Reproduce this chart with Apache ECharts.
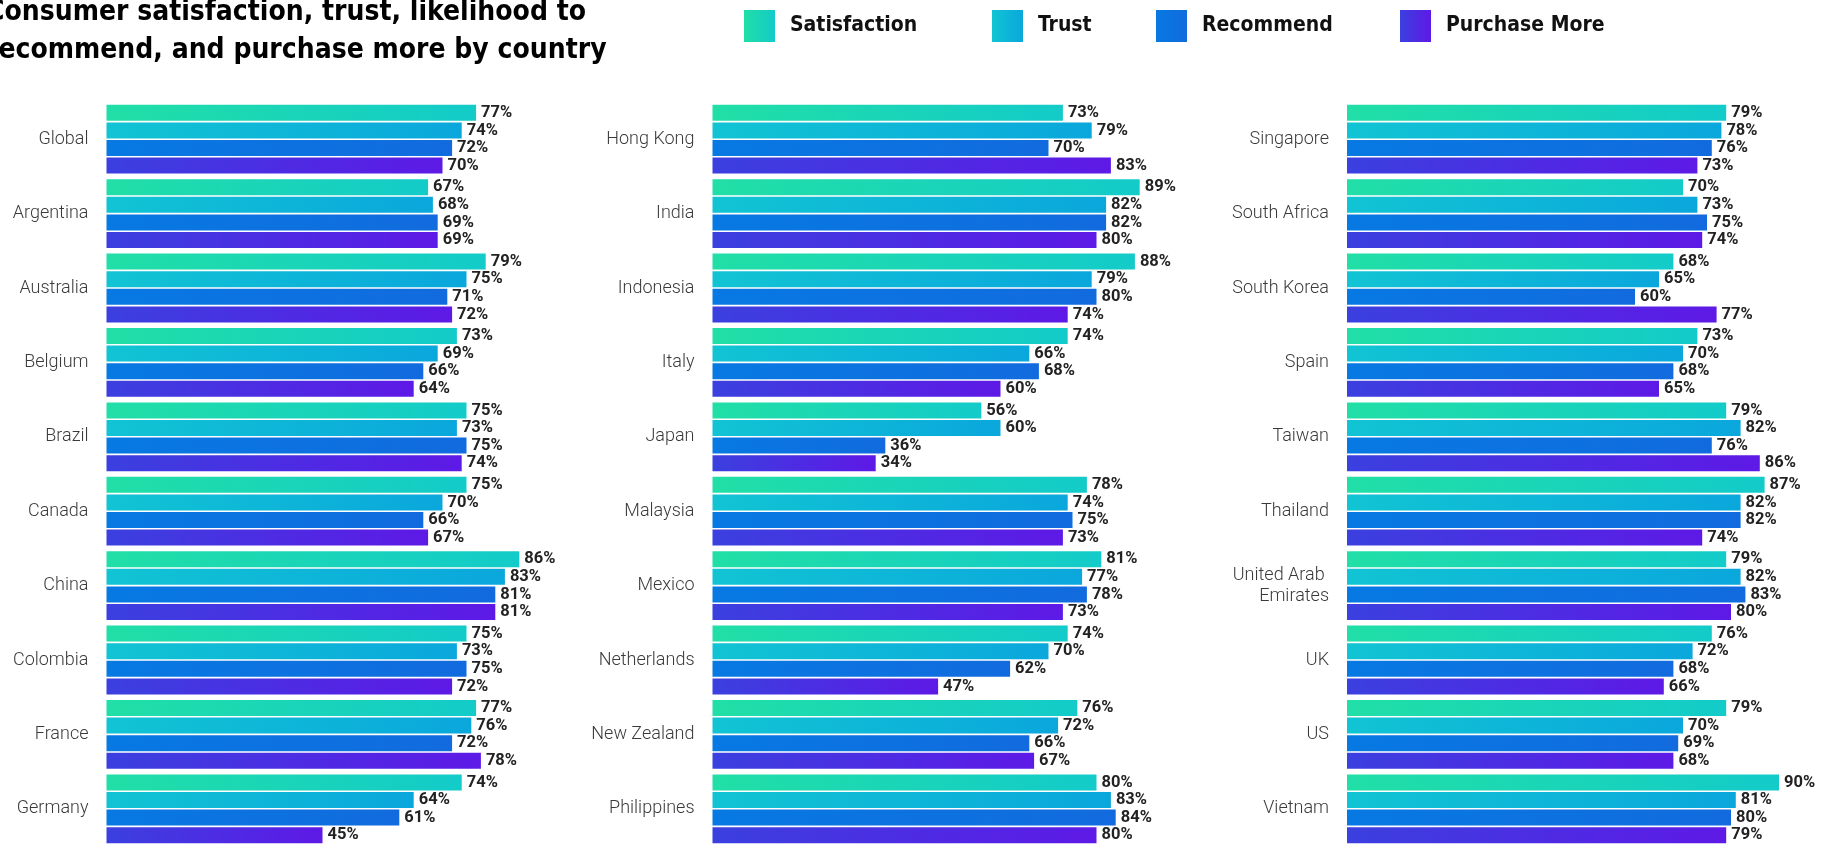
<!DOCTYPE html>
<html><head><meta charset="utf-8">
<script src="https://cdn.jsdelivr.net/npm/echarts@6/dist/echarts.min.js"></script>
<style>html,body{margin:0;padding:0;background:#fff;overflow:hidden}#c{width:1835px;height:846px}</style>
</head><body><div id="c"></div>
<script>
const countries = [
  'Global','Argentina','Australia','Belgium','Brazil','Canada','China','Colombia','France','Germany',
  'Hong Kong','India','Indonesia','Italy','Japan','Malaysia','Mexico','Netherlands','New Zealand','Philippines',
  'Singapore','South Africa','South Korea','Spain','Taiwan','Thailand','United Arab \nEmirates','UK','US','Vietnam'
];
const satisfaction = [77,67,79,73,75,75,86,75,77,74, 73,89,88,74,56,78,81,74,76,80, 79,70,68,73,79,87,79,76,79,90];
const trust        = [74,68,75,69,73,70,83,73,76,64, 79,82,79,66,60,74,77,70,72,83, 78,73,65,70,82,82,82,72,70,81];
const recommend    = [72,69,71,66,75,66,81,75,72,61, 70,82,80,68,36,75,78,62,66,84, 76,75,60,68,76,82,83,68,69,80];
const purchaseMore = [70,69,72,64,74,67,81,72,78,45, 83,80,74,60,34,73,73,47,67,80, 73,74,77,65,86,74,80,66,68,79];
const seriesNames = ['Satisfaction','Trust','Recommend','Purchase More'];
const seriesData = [satisfaction, trust, recommend, purchaseMore];
const gradients = [
  ['#21dfa6','#13cbc9'],
  ['#11c4d3','#0aa7dc'],
  ['#0779e2','#126bde'],
  ['#3b40df','#5e19e6']
];
const gridLefts = [106.5, 712.5, 1347];
const legendLefts = [739, 987, 1151, 1395];

const chart = echarts.init(document.getElementById('c'));
const grad = (c) => new echarts.graphic.LinearGradient(0, 0, 1, 0, [{offset: 0, color: c[0]}, {offset: 1, color: c[1]}]);

const grids = [], xAxes = [], yAxes = [], series = [];
for (let g = 0; g < 3; g++) {
  grids.push({left: gridLefts[g], width: 480, top: 102, height: 752});
  xAxes.push({type: 'value', gridIndex: g, min: 0, max: 100, show: false});
  yAxes.push({
    type: 'category', gridIndex: g, inverse: true,
    data: countries.slice(g * 10, g * 10 + 10),
    axisLine: {show: false}, axisTick: {show: false}, splitLine: {show: false},
    axisLabel: {margin: 18, fontFamily: 'Roboto', fontWeight: 300, fontSize: 18, color: '#3a3a3a', lineHeight: 21}
  });
  for (let s = 0; s < 4; s++) {
    series.push({
      type: 'bar', name: seriesNames[s], xAxisIndex: g, yAxisIndex: g,
      data: seriesData[s].slice(g * 10, g * 10 + 10),
      barWidth: 16, barGap: '10%',
      itemStyle: {color: grad(gradients[s])},
      label: {show: true, position: 'right', distance: 5, formatter: '{c}%',
        fontFamily: 'Roboto', fontWeight: 'bold', fontSize: 16.5, color: '#222'},
      animation: false
    });
  }
}
const legends = seriesNames.map((n, i) => ({
  left: legendLefts[i], top: 5, data: [n], icon: 'rect', itemWidth: 31, itemHeight: 32,
  textStyle: {fontFamily: 'DejaVu Sans Condensed', fontWeight: 'bold', fontSize: 21, color: '#111', padding: [0, 0, 0, 10]},
  selectedMode: false
}));

chart.setOption({
  animation: false,
  title: {
    text: 'Consumer satisfaction, trust, likelihood to\nrecommend, and purchase more by country',
    left: -19, top: -11.5,
    textStyle: {fontFamily: 'DejaVu Sans Condensed', fontWeight: 'bold', fontSize: 28, lineHeight: 38, color: '#000'}
  },
  legend: legends,
  grid: grids, xAxis: xAxes, yAxis: yAxes, series: series
});
</script></body></html>
